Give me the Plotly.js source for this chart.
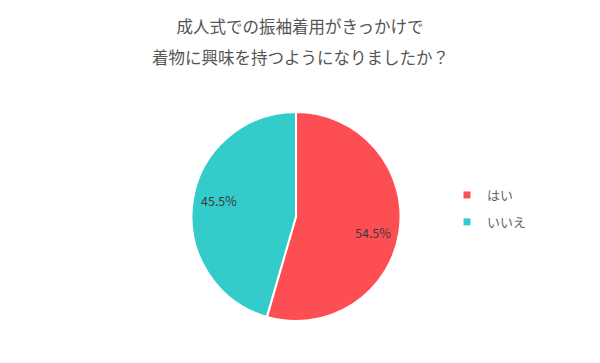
<!DOCTYPE html>
<html>
<head>
<meta charset="utf-8">
<script src="https://cdn.plot.ly/plotly-3.0.1.min.js"></script>
<style>html,body{margin:0;padding:0;background:#fff;}#chart{width:600px;height:363px;}</style>
</head>
<body>
<div id="chart"></div>
<script>
const titleLine1 = "成人式での振袖着用がきっかけで";
const titleLine2 = "着物に興味を持つようになりましたか？";
const categories = ["はい", "いいえ"];
const values = [54.5, 45.5];
const colors = ["#fd4f53", "#33cccb"];

const FONT = '"Noto Sans CJK JP", "Noto Sans", sans-serif';
const W = 600, H = 363;
const CX = 296, CY = 216.5, R = 104.5;      // pie centre / radius in px (layout)
const LABEL_R = 0.75, LABEL_ROT = 4;        // label placement style

const pie = {
  type: "pie",
  labels: categories,
  values: values,
  sort: false,
  direction: "clockwise",
  rotation: 0,
  marker: {colors: colors, line: {color: "#ffffff", width: 2}},
  textinfo: "none",
  hoverinfo: "label+percent",
  showlegend: false,
  domain: {x: [(CX - R) / W, (CX + R) / W], y: [1 - (CY + R) / H, 1 - (CY - R) / H]}
};

const legendTraces = categories.map((c, i) => ({
  type: "scatter",
  mode: "markers",
  x: [null], y: [null],
  name: c,
  legendgroup: "g" + i,
  marker: {symbol: "square", size: 7, color: colors[i]},
  showlegend: true,
  hoverinfo: "skip"
}));

// percentage labels placed at each slice's mid-angle
const total = values.reduce((a, b) => a + b, 0);
let cum = 0;
const labelAnns = values.map((v) => {
  const mid = (cum + v / 2) / total;
  cum += v;
  const ang = (mid * 360 + LABEL_ROT) * Math.PI / 180;
  const px = CX + LABEL_R * R * Math.sin(ang);
  const py = CY - LABEL_R * R * Math.cos(ang);
  return {
    text: (v / total * 100).toFixed(1) + "%",
    xref: "paper", yref: "paper", x: px / W, y: 1 - py / H,
    xanchor: "center", yanchor: "middle", showarrow: false,
    font: {family: FONT, size: 12.5, color: "#3a3a3a"}
  };
});

const layout = {
  width: W, height: H,
  margin: {l: 0, r: 0, t: 0, b: 0},
  paper_bgcolor: "#ffffff",
  plot_bgcolor: "#ffffff",
  font: {family: FONT, color: "#555555"},
  title: {text: titleLine1, x: 0.5, xanchor: "center", y: 1 - 27 / H, yanchor: "middle",
          font: {family: FONT, size: 16.5, color: "#555555"}},
  annotations: [{text: titleLine2, xref: "paper", yref: "paper", x: 0.5, y: 1 - 57 / H,
                 xanchor: "center", yanchor: "middle", showarrow: false,
                 font: {family: FONT, size: 16.5, color: "#555555"}}].concat(labelAnns),
  xaxis: {visible: false}, yaxis: {visible: false},
  showlegend: true,
  legend: {x: 447 / W, y: 1 - 180 / H, xanchor: "left", yanchor: "top",
           font: {family: FONT, size: 13, color: "#666666"},
           tracegroupgap: 7, bgcolor: "rgba(0,0,0,0)"}
};

Plotly.newPlot("chart", [pie].concat(legendTraces), layout, {displayModeBar: false, staticPlot: true});
</script>
</body>
</html>
